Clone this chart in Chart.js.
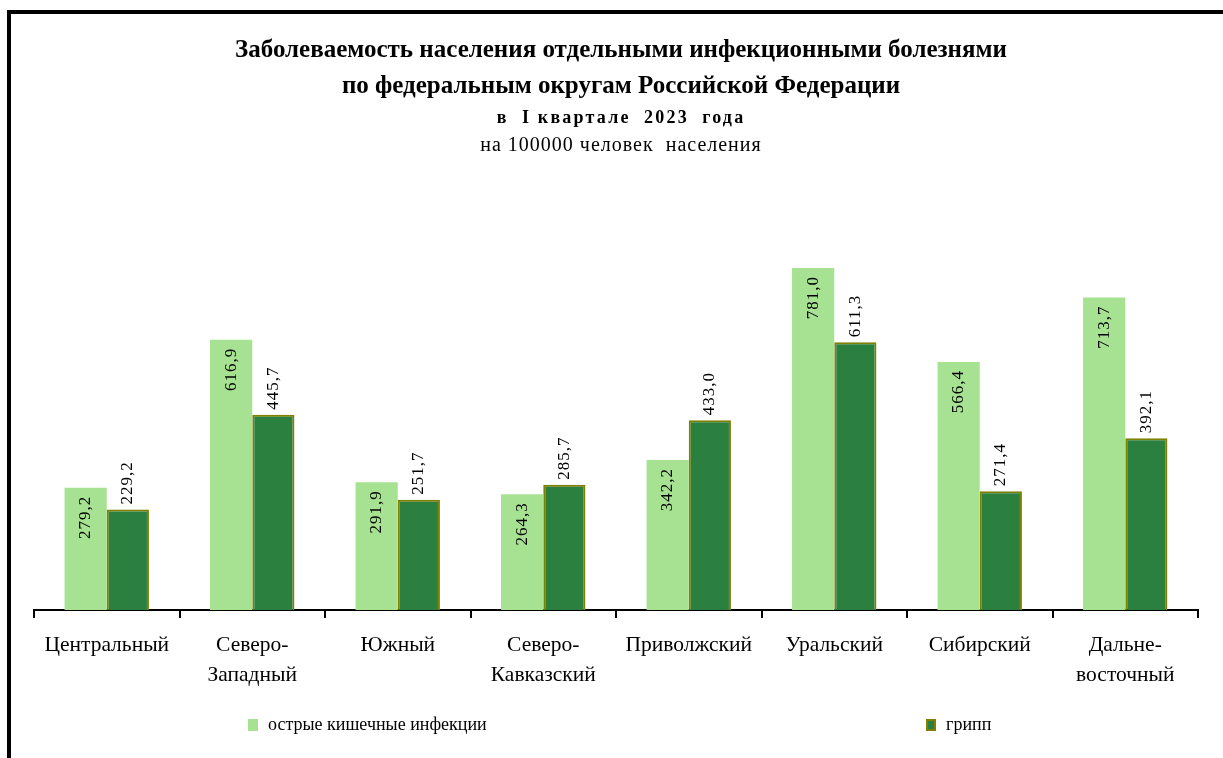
<!DOCTYPE html>
<html>
<head>
    <meta charset="utf-8">
    <title>Заболеваемость по федеральным округам</title>
    <script src="https://cdn.jsdelivr.net/npm/chart.js"></script>
    <style>
        body {
            margin: 0;
            background: #fff;
            font-family: 'Liberation Serif', 'Times New Roman', serif;
        }
        #wrap {
            position: relative;
            width: 1223px;
            height: 758px;
        }
        #frame {
            position: absolute;
            left: 7px;
            top: 10px;
            right: 0;
            bottom: 0;
            border-left: 4px solid #000;
            border-top: 4px solid #000;
            pointer-events: none;
        }
        .legend-item {
            position: absolute;
            top: 714px;
            font-size: 18px;
            color: #000;
            display: flex;
            align-items: center;
            white-space: nowrap;
        }
        .legend-item span.box {
            display: inline-block;
            width: 10px;
            height: 12px;
            margin-right: 10px;
            box-sizing: border-box;
        }
    </style>
</head>
<body>
    <div id="wrap">
        <canvas id="chart" width="1223" height="758"></canvas>
        <div id="frame"></div>
        <div id="legend"></div>
    </div>

    <script>
        const districts = [
            'Центральный',
            ['Северо-', 'Западный'],
            'Южный',
            ['Северо-', 'Кавказский'],
            'Приволжский',
            'Уральский',
            'Сибирский',
            ['Дальне-', 'восточный']
        ];
        const intestinal = [279.2, 616.9, 291.9, 264.3, 342.2, 781.0, 566.4, 713.7];
        const influenza = [229.2, 445.7, 251.7, 285.7, 433.0, 611.3, 271.4, 392.1];
        const seriesNames = ['острые кишечные инфекции', 'грипп'];

        const headingLines = [
            { text: 'Заболеваемость населения отдельными инфекционными болезнями', font: 'bold 25px "Liberation Serif"', y: 57, spacing: '0px' },
            { text: 'по федеральным округам Российской Федерации', font: 'bold 25px "Liberation Serif"', y: 93, spacing: '0px' },
            { text: 'в  I квартале  2023  года', font: 'bold 18px "Liberation Serif"', y: 123, spacing: '2.2px' },
            { text: 'на 100000 человек  населения', font: '20px "Liberation Serif"', y: 151, spacing: '1px' }
        ];

        const serif = "'Liberation Serif', 'Times New Roman', serif";
        const fmt = v => v.toFixed(1).replace('.', ',');

        // heading text above the plot
        const headingPlugin = {
            id: 'heading',
            afterDraw(chart) {
                const ctx = chart.ctx;
                ctx.save();
                ctx.fillStyle = '#000';
                ctx.textAlign = 'center';
                ctx.textBaseline = 'alphabetic';
                headingLines.forEach(line => {
                    ctx.font = line.font;
                    ctx.letterSpacing = line.spacing;
                    ctx.fillText(line.text, 621, line.y);
                });
                ctx.restore();
            }
        };

        // vertical value labels: inside the light bars, above the dark bars
        const valueLabels = {
            id: 'valueLabels',
            afterDatasetsDraw(chart) {
                const ctx = chart.ctx;
                ctx.save();
                ctx.font = '17px ' + serif;
                ctx.letterSpacing = '1px';
                ctx.fillStyle = '#000';
                ctx.textBaseline = 'middle';
                chart.data.datasets.forEach((ds, di) => {
                    const meta = chart.getDatasetMeta(di);
                    meta.data.forEach((bar, i) => {
                        ctx.save();
                        if (di === 0) {
                            ctx.translate(bar.x, bar.y + 8);
                            ctx.rotate(-Math.PI / 2);
                            ctx.textAlign = 'right';
                        } else {
                            ctx.translate(bar.x, bar.y - 5);
                            ctx.rotate(-Math.PI / 2);
                            ctx.textAlign = 'left';
                        }
                        ctx.fillText(fmt(ds.data[i]), 0, 0);
                        ctx.restore();
                    });
                });
                ctx.restore();
            }
        };

        const chart = new Chart(document.getElementById('chart').getContext('2d'), {
            type: 'bar',
            data: {
                labels: districts,
                datasets: [{
                    label: seriesNames[0],
                    data: intestinal,
                    backgroundColor: '#a6e291',
                    borderWidth: 0
                }, {
                    label: seriesNames[1],
                    data: influenza,
                    backgroundColor: '#2b7f3f',
                    borderColor: '#808000',
                    borderWidth: 2
                }]
            },
            options: {
                responsive: false,
                animation: false,
                layout: {
                    padding: { top: 172, left: 34, right: 25, bottom: 0 }
                },
                datasets: {
                    bar: {
                        categoryPercentage: 0.58,
                        barPercentage: 1
                    }
                },
                scales: {
                    x: {
                        afterFit(scale) { scale.height = 148; },
                        grid: {
                            offset: true,
                            drawOnChartArea: false,
                            tickLength: 8,
                            color: '#000',
                            lineWidth: 2
                        },
                        border: { color: '#000', width: 2 },
                        ticks: {
                            color: '#000',
                            padding: 12,
                            maxRotation: 0,
                            autoSkip: false,
                            font: { family: serif, size: 21.5, lineHeight: 1.4 }
                        }
                    },
                    y: {
                        display: false,
                        min: 0,
                        max: 1000
                    }
                },
                plugins: {
                    legend: { display: false },
                    title: { display: false },
                    tooltip: { enabled: false }
                }
            },
            plugins: [headingPlugin, valueLabels]
        });

        // legend laid out under the axis, built from the datasets
        const legendLeft = [248, 926];
        const legendBox = document.getElementById('legend');
        chart.data.datasets.forEach((ds, i) => {
            const item = document.createElement('div');
            item.className = 'legend-item';
            item.style.left = legendLeft[i] + 'px';
            const box = document.createElement('span');
            box.className = 'box';
            box.style.background = ds.backgroundColor;
            if (ds.borderWidth) box.style.border = '2px solid ' + ds.borderColor;
            item.appendChild(box);
            item.appendChild(document.createTextNode(ds.label));
            legendBox.appendChild(item);
        });
    </script>
</body>
</html>
